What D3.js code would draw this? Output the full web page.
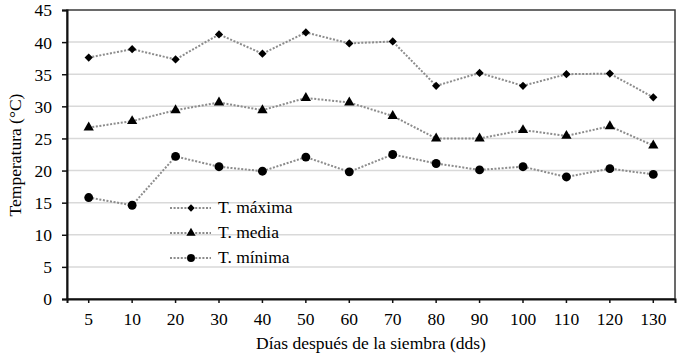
<!DOCTYPE html>
<html>
<head>
<meta charset="utf-8">
<script src="https://cdn.jsdelivr.net/npm/d3@7/dist/d3.min.js"></script>
<style>
  body { margin: 0; background: #fff; }
  svg text { font-family: "Liberation Serif", "Times New Roman", "DejaVu Serif", serif !important; fill: #000; }
</style>
</head>
<body>
<div id="chart"></div>
<script>
// days after sowing (categorical)
var days = ['5', '10', '20', '30', '40', '50', '60', '70', '80', '90', '100', '110', '120', '130']
var tMax = [37.6, 38.9, 37.3, 41.2, 38.2, 41.5, 39.8, 40.1, 33.2, 35.2, 33.2, 35.0, 35.1, 31.4]
var tMed = [26.7, 27.7, 29.4, 30.6, 29.4, 31.3, 30.6, 28.5, 25.0, 25.0, 26.3, 25.4, 26.9, 23.9]
var tMin = [15.8, 14.6, 22.2, 20.6, 19.9, 22.1, 19.8, 22.5, 21.1, 20.1, 20.6, 19.0, 20.3, 19.4]
var yTicks = [0, 5, 10, 15, 20, 25, 30, 35, 40, 45]
var seriesNames = ['T. máxima', 'T. media', 'T. mínima']

var serif = '"Liberation Serif", "Times New Roman", serif'
var fs = 17.5
var W = 678, H = 354
var margin = { top: 10, right: 3, bottom: 55, left: 67 }
var width = W - margin.left - margin.right
var height = H - margin.top - margin.bottom

var svg = d3.select('#chart').append('svg')
  .attr('width', W).attr('height', H)
  .attr('font-family', serif)

var g = svg.append('g')
  .attr('transform', 'translate(' + margin.left + ',' + margin.top + ')')

var x = d3.scaleBand().domain(days).range([0, width])
var y = d3.scaleLinear().domain([0, 45]).range([height, 0])

// gridlines
g.selectAll('line.grid')
  .data(yTicks.filter(function (d) { return d > 0 && d < 45 }))
  .enter().append('line')
  .attr('class', 'grid')
  .attr('x1', 0).attr('x2', width)
  .attr('y1', function (d) { return y(d) }).attr('y2', function (d) { return y(d) })
  .attr('stroke', '#d9d9d9').attr('stroke-width', 1.5)

// frame
g.append('rect')
  .attr('x', 0).attr('y', 0).attr('width', width).attr('height', height)
  .attr('fill', 'none').attr('stroke', '#3a3a3a').attr('stroke-width', 1.5)

// axes
var yAxis = g.append('g')
  .call(d3.axisLeft(y).tickValues(yTicks).tickSize(5).tickPadding(10))
  .attr('font-family', serif)
yAxis.select('.domain').attr('stroke', '#111').attr('stroke-width', 2)
yAxis.selectAll('.tick line').attr('stroke', '#111').attr('stroke-width', 1.5)
yAxis.selectAll('text').attr('font-size', fs).attr('dy', '0.34em')

var xAxis = g.append('g')
  .attr('transform', 'translate(0,' + height + ')')
  .call(d3.axisBottom(x).tickSizeOuter(0).tickSize(4))
  .attr('font-family', serif)
xAxis.select('.domain').attr('stroke', '#111').attr('stroke-width', 2)
xAxis.selectAll('.tick line').attr('stroke', '#111').attr('stroke-width', 1.5)
xAxis.selectAll('text').attr('font-size', fs)
  .attr('y', 26).attr('dy', 0)

// series
var series = [
  { name: seriesNames[0], values: tMax, symbol: d3.symbolSquare, size: 34, rot: 45 },
  { name: seriesNames[1], values: tMed, symbol: d3.symbolTriangle, size: 46, rot: 0 },
  { name: seriesNames[2], values: tMin, symbol: d3.symbolCircle, size: 62, rot: 0 }
]

var line = d3.line()
  .x(function (d, i) { return x(days[i]) + x.bandwidth() / 2 })
  .y(function (d) { return y(d) })

series.forEach(function (s) {
  g.append('path')
    .datum(s.values)
    .attr('d', line)
    .attr('fill', 'none')
    .attr('stroke', '#8c8c8c')
    .attr('stroke-width', 2)
    .attr('stroke-dasharray', '2,1.6')

  g.selectAll(null)
    .data(s.values)
    .enter().append('path')
    .attr('d', d3.symbol().type(s.symbol).size(s.size))
    .attr('transform', function (d, i) {
      return 'translate(' + (x(days[i]) + x.bandwidth() / 2) + ',' + y(d) + ') rotate(' + s.rot + ')'
    })
    .attr('fill', '#000')
})

// legend
var legend = svg.append('g').attr('transform', 'translate(170,208)')
series.forEach(function (s, i) {
  var row = legend.append('g').attr('transform', 'translate(0,' + (i * 25) + ')')
  row.append('line')
    .attr('x1', 0).attr('x2', 41).attr('y1', 0).attr('y2', 0)
    .attr('stroke', '#8c8c8c').attr('stroke-width', 2).attr('stroke-dasharray', '2,1.6')
  row.append('path')
    .attr('d', d3.symbol().type(s.symbol).size(s.size * 0.8))
    .attr('transform', 'translate(21,0) rotate(' + s.rot + ')')
    .attr('fill', '#000')
  row.append('text')
    .attr('x', 48).attr('y', 5)
    .attr('font-size', fs)
    .text(s.name)
})

// axis titles
svg.append('text')
  .attr('x', margin.left + width / 2).attr('y', 349)
  .attr('text-anchor', 'middle')
  .attr('font-size', fs)
  .text('Días después de la siembra (dds)')

svg.append('text')
  .attr('transform', 'translate(21,155) rotate(-90)')
  .attr('text-anchor', 'middle')
  .attr('font-size', fs)
  .text('Temperatura (°C)')
</script>
</body>
</html>
